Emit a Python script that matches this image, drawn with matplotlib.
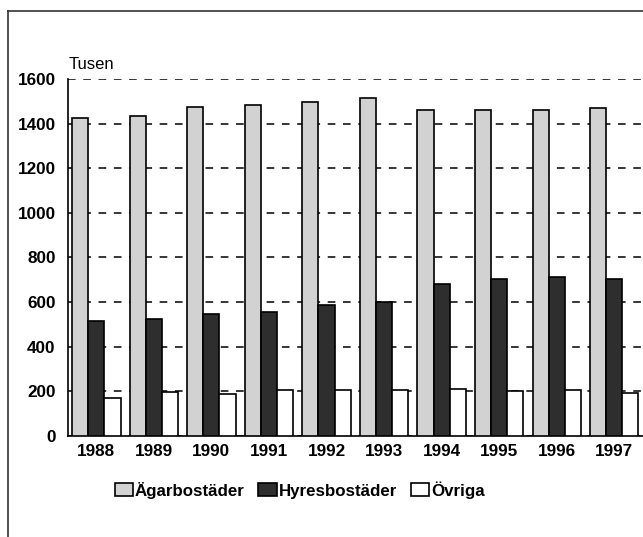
import numpy as np
import matplotlib.pyplot as plt
from matplotlib.lines import Line2D

plt.rcParams['font.family'] = ['Liberation Sans', 'DejaVu Sans']

years = ['1988', '1989', '1990', '1991', '1992', '1993', '1994', '1995', '1996', '1997']
agar = [1425, 1434, 1475, 1484, 1497, 1515, 1461, 1461, 1461, 1470]
hyres = [515, 524, 547, 556, 587, 600, 681, 704, 713, 704]
ovriga = [170, 197, 188, 206, 206, 206, 211, 202, 206, 193]
series_names = ['Ägarbostäder', 'Hyresbostäder', 'Övriga']

fig = plt.figure(figsize=(6.43, 5.37), dpi=100)
ax = fig.add_axes([0.106, 0.188, 0.894, 0.665])

x = np.arange(len(years))
w = 0.28
ax.bar(x - w, agar, w, color='#d2d2d2', edgecolor='black', lw=1.2, label=series_names[0], zorder=3)
ax.bar(x, hyres, w, color='#2e2e2e', edgecolor='black', lw=1.2, label=series_names[1], zorder=3)
ax.bar(x + w, ovriga, w, color='white', edgecolor='black', lw=1.2, label=series_names[2], zorder=3)

ax.set_xlim(-0.49, 9.5)
ax.set_ylim(0, 1600)
ax.set_yticks(range(0, 1601, 200))
ax.set_xticks(x)
ax.set_xticklabels(years)
ax.tick_params(axis='both', length=0, labelsize=12.3)
ax.tick_params(axis='y', pad=9)
ax.tick_params(axis='x', pad=6)
for lab in ax.get_xticklabels() + ax.get_yticklabels():
    lab.set_fontweight('bold')

ax.yaxis.grid(True, linestyle=(0, (5, 5)), color='black', lw=1.1, zorder=0)
ax.set_axisbelow(True)
ax.spines['right'].set_visible(False)
ax.spines['top'].set_visible(False)
ax.spines['left'].set_linewidth(1.2)
ax.spines['bottom'].set_linewidth(1.2)

ax.text(0.0, 1.02, 'Tusen', transform=ax.transAxes, fontsize=12, ha='left', va='bottom')

fig.legend(loc='center', bbox_to_anchor=(0.466, 0.088), ncol=3, frameon=False,
           prop={'weight': 'bold', 'size': 12.2}, handlelength=1.1, handleheight=0.8,
           handletextpad=0.1, columnspacing=0.8)

# outer frame (only left and top edges visible)
fig.add_artist(Line2D([0.0124, 0.0124], [0, 0.9795], color='#333333', lw=1.2))
fig.add_artist(Line2D([0.0124, 1.0], [0.9795, 0.9795], color='#333333', lw=1.2))

fig.savefig('out.png', dpi=100)
